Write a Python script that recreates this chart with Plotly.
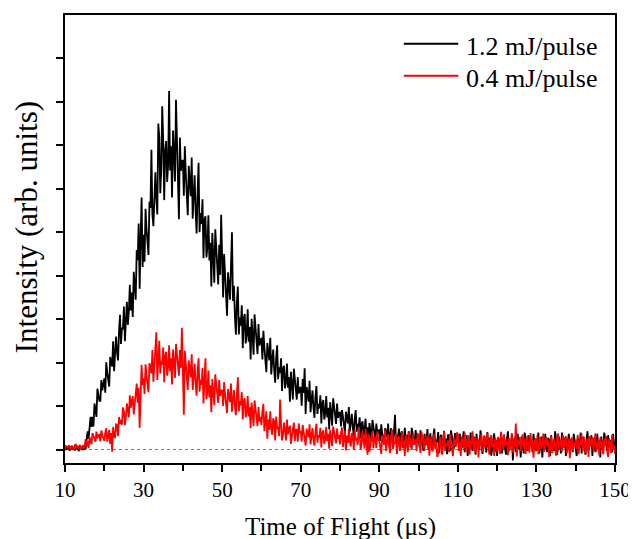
import numpy as np
import plotly.graph_objects as go

# Time grid (µs), 0.25 µs sampling
t_start, t_stop, t_step = 10.0, 150.0, 0.25
tof = np.arange(t_start, t_stop + t_step / 2, t_step)

x_ticks = [10, 30, 50, 70, 90, 110, 130, 150]
y_ticks = [0, 1, 2, 3, 4, 5, 6, 7, 8, 9]

series_names = ["1.2 mJ/pulse", "0.4 mJ/pulse"]

# 1.2 mJ/pulse intensity (arb. units), one row = 2.5 µs
high_energy = [
    0.04, -0.01, 0.06, 0.03, 0.00, -0.02, 0.05, 0.03, 0.01, 0.06,
    -0.02, 0.02, 0.05, 0.00, -0.02, 0.04, 0.07, -0.01, 0.03, 0.01,
    0.11, 0.01, 0.25, 0.42, 0.25, 0.43, 0.75, 0.52, 0.75, 0.53,
    1.06, 0.92, 0.75, 1.40, 1.29, 1.12, 1.12, 1.60, 1.36, 1.52,
    1.64, 1.31, 2.01, 1.77, 1.62, 1.45, 2.13, 2.04, 1.91, 2.49,
    1.80, 2.22, 2.60, 2.23, 2.05, 2.72, 3.10, 2.43, 2.80, 2.77,
    3.29, 2.49, 3.22, 3.40, 2.87, 3.17, 3.79, 3.20, 3.61, 3.05,
    4.09, 3.60, 3.45, 4.59, 4.36, 5.20, 3.70, 4.86, 5.80, 4.20,
    4.94, 4.32, 5.54, 5.08, 4.78, 4.48, 5.70, 5.56, 6.90, 5.40,
    5.14, 5.80, 6.38, 5.76, 5.41, 7.50, 7.20, 5.90, 6.43, 7.90,
    7.13, 5.74, 6.87, 7.10, 6.16, 6.54, 8.25, 6.42, 6.98, 5.80,
    7.34, 6.80, 6.17, 8.05, 7.06, 6.38, 5.30, 7.18, 6.41, 6.63,
    6.66, 5.84, 6.98, 6.34, 5.86, 5.39, 6.53, 6.22, 5.83, 6.72,
    5.31, 5.85, 6.31, 5.47, 4.97, 5.91, 6.60, 5.00, 5.44, 5.19,
    5.76, 4.40, 5.29, 5.37, 4.42, 4.66, 5.39, 4.35, 4.76, 3.75,
    4.98, 4.45, 3.84, 5.07, 4.62, 4.01, 3.80, 4.71, 4.02, 5.40,
    4.23, 3.50, 4.50, 3.93, 3.50, 3.08, 4.08, 3.80, 3.45, 4.23,
    5.00, 3.42, 3.77, 3.06, 2.64, 3.40, 3.75, 2.65, 3.04, 2.85,
    3.32, 2.33, 3.03, 3.12, 2.44, 2.65, 3.23, 2.48, 2.82, 2.07,
    3.01, 2.62, 2.18, 3.11, 2.79, 2.34, 2.20, 2.89, 2.39, 2.54,
    2.55, 2.07, 2.73, 2.35, 2.07, 1.78, 2.45, 2.27, 2.05, 2.57,
    1.73, 2.05, 2.30, 1.82, 1.54, 2.11, 2.40, 1.62, 1.89, 1.76,
    2.10, 1.35, 1.86, 1.93, 1.41, 1.56, 1.98, 1.42, 1.67, 1.10,
    1.79, 1.50, 1.15, 1.86, 1.60, 1.27, 1.15, 1.67, 1.29, 1.40,
    1.44, 1.01, 1.62, 1.30, 1.87, 0.82, 1.44, 1.29, 1.10, 1.58,
    0.86, 1.13, 1.36, 0.96, 0.73, 1.22, 1.46, 0.82, 1.05, 0.95,
    1.25, 0.60, 1.07, 1.14, 0.69, 0.84, 1.23, 0.74, 0.96, 0.46,
    1.09, 0.84, 0.55, 1.18, 0.97, 0.68, 0.59, 1.06, 0.73, 0.84,
    0.86, 0.53, 0.91, 0.76, 0.57, 0.39, 0.87, 0.75, 0.60, 0.98,
    0.41, 0.63, 0.82, 0.51, 0.34, 0.72, 0.91, 0.41, 0.59, 0.52,
    0.74, 0.25, 0.60, 0.65, 0.31, 0.42, 0.71, 0.34, 0.51, 0.14,
    0.61, 0.42, 0.20, 0.68, 0.52, 0.31, 0.24, 0.60, 0.35, 0.44,
    0.45, 0.20, 0.58, 0.38, 0.24, 0.11, 0.49, 0.41, 0.29, 0.60,
    0.13, 0.33, 0.49, 0.24, 0.10, 0.43, 0.80, 0.16, 0.33, 0.27,
    0.48, 0.03, 0.36, 0.42, 0.11, 0.22, 0.50, 0.17, 0.34, 0.00,
    0.42, 0.25, 0.05, 0.50, 0.36, 0.17, 0.11, 0.45, 0.22, 0.31,
    0.30, 0.05, 0.44, 0.25, 0.11, -0.03, 0.36, 0.28, 0.16, 0.47,
    0.00, 0.20, 0.37, 0.12, -0.02, 0.31, 0.48, 0.06, 0.23, 0.17,
    0.40, -0.08, 0.28, 0.34, 0.01, 0.13, 0.43, 0.07, 0.25, -0.11,
    0.35, 0.17, -0.04, 0.44, 0.29, 0.08, 0.02, 0.38, 0.14, 0.23,
    0.21, 0.12, 0.36, 0.00, 0.06, 0.27, 0.42, -0.06, 0.15, 0.33,
    -0.15, 0.21, 0.03, 0.39, 0.09, -0.03, 0.30, 0.24, -0.12, 0.36,
    0.11, 0.17, -0.01, 0.44, 0.26, -0.10, 0.05, 0.32, 0.14, -0.07,
    0.40, 0.07, 0.19, 0.28, -0.14, 0.01, 0.16, 0.37, -0.05, 0.22,
    -0.15, 0.27, 0.18, 0.06, 0.39, -0.09, 0.12, 0.30, 0.03, -0.12,
    0.24, 0.42, -0.03, 0.15, 0.09, 0.33, -0.25, 0.21, 0.27, -0.06,
    0.06, 0.36, 0.00, 0.18, -0.18, 0.30, 0.12, -0.09, 0.39, 0.24,
    0.03, -0.03, 0.33, 0.09, 0.18, 0.21, -0.06, 0.36, 0.15, 0.00,
    -0.03, 0.24, 0.39, -0.09, 0.12, 0.30, -0.18, 0.18, 0.00, 0.36,
    0.06, -0.06, 0.27, 0.21, -0.15, 0.33, 0.09, 0.15, -0.03, 0.42,
    0.24, -0.12, 0.03, 0.30, 0.12, -0.09, 0.39, 0.06, 0.18, 0.27,
    -0.15, 0.00, 0.15, 0.36, -0.06, 0.21, 0.21, -0.06, 0.36, 0.15,
    0.00, -0.15, 0.27, 0.18, 0.06, 0.39, -0.09, 0.12, 0.30, 0.03,
    -0.12, 0.24, 0.42, -0.03, 0.15, 0.09, 0.33, -0.15, 0.21, 0.27,
    -0.06, 0.06, 0.36, 0.00, 0.18, -0.18, 0.30, 0.12, -0.09, 0.39,
    0.24, 0.03, -0.03, 0.33, 0.09, 0.18, 0.21, -0.06, 0.36, 0.15,
    0.05,
]

# 0.4 mJ/pulse intensity (arb. units), one row = 2.5 µs
low_energy = [
    0.00, 0.08, 0.06, 0.04, 0.10, 0.01, 0.05, 0.09, 0.03, 0.00,
    0.09, 0.13, 0.03, 0.07, 0.05, 0.11, 0.00, 0.08, 0.10, 0.02,
    0.07, 0.24, 0.08, 0.19, 0.03, 0.29, 0.22, 0.12, 0.38, 0.31,
    0.21, 0.18, 0.41, 0.26, 0.33, 0.34, 0.19, 0.44, 0.32, 0.23,
    0.20, 0.39, 0.49, 0.18, 0.32, 0.45, 0.13, 0.38, -0.05, 0.52,
    0.33, 0.26, 0.58, 0.57, 0.31, 0.75, 0.59, 0.68, 0.57, 0.97,
    0.88, 0.56, 0.75, 1.06, 0.92, 0.74, 1.25, 0.96, 1.11, 1.23,
    0.81, 1.02, 1.24, 1.52, 1.07, 1.42, 0.50, 1.16, 1.95, 1.48,
    1.64, 1.28, 1.96, 1.69, 1.50, 1.32, 1.99, 1.89, 1.75, 2.29,
    1.56, 1.94, 2.27, 2.70, 1.60, 2.20, 2.50, 1.75, 2.05, 1.95,
    2.35, 1.55, 2.15, 2.25, 1.70, 1.90, 2.40, 1.80, 2.10, 1.50,
    2.30, 2.00, 1.65, 2.43, 2.17, 1.81, 1.70, 2.29, 1.88, 2.80,
    2.07, 0.80, 2.28, 1.91, 1.64, 1.37, 2.05, 1.88, 1.66, 2.19,
    1.37, 1.70, 1.98, 1.51, 1.24, 1.82, 2.10, 1.33, 1.61, 1.49,
    1.88, 1.06, 1.65, 2.10, 1.16, 1.34, 1.82, 1.20, 1.48, 0.86,
    1.62, 1.34, 1.02, 1.73, 1.49, 1.17, 1.07, 1.60, 1.23, 1.35,
    1.37, 1.00, 1.55, 1.26, 1.05, 0.84, 1.39, 1.26, 1.09, 1.52,
    0.87, 1.14, 1.37, 1.00, 0.79, 1.26, 1.66, 0.88, 1.11, 1.02,
    1.32, 0.69, 1.12, 1.18, 0.74, 0.87, 1.23, 0.76, 0.97, 0.49,
    1.08, 0.83, 0.54, 1.13, 0.92, 0.64, 0.54, 0.98, 0.65, 0.75,
    0.56, 0.88, 1.05, 0.42, 0.67, 0.88, 0.25, 0.69, 0.45, 0.88,
    0.50, 0.34, 0.72, 0.64, 0.21, 0.76, 0.47, 0.53, 0.31, 1.15,
    0.58, 0.21, 0.35, 0.62, 0.43, 0.21, 0.69, 0.35, 0.47, 0.55,
    0.13, 0.27, 0.42, 0.62, 0.20, 0.46, 0.46, 0.18, 0.60, 0.38,
    0.43, 0.18, 0.57, 0.37, 0.23, 0.09, 0.48, 0.40, 0.28, 0.58,
    0.12, 0.32, 0.49, 0.23, 0.09, 0.42, 0.59, 0.16, 0.33, 0.27,
    0.50, 0.05, 0.38, 0.44, 0.13, 0.24, 0.52, 0.19, 0.36, 0.02,
    0.45, 0.28, 0.08, 0.53, 0.39, 0.20, 0.14, 0.48, 0.25, 0.34,
    0.12, 0.37, 0.51, 0.06, 0.26, 0.43, -0.02, 0.32, 0.15, 0.48,
    0.18, 0.07, 0.38, 0.32, -0.01, 0.44, 0.21, 0.27, 0.10, 0.52,
    0.33, 0.00, 0.14, 0.39, 0.22, 0.02, 0.47, 0.16, -0.12, 0.36,
    -0.05, 0.09, 0.23, 0.42, 0.03, 0.28, 0.28, 0.03, 0.42, 0.23,
    0.20, 0.05, -0.10, 0.32, 0.23, 0.11, 0.44, -0.04, 0.17, 0.35,
    0.07, -0.08, 0.28, 0.46, 0.01, 0.19, 0.13, 0.37, -0.11, 0.25,
    0.30, -0.03, 0.09, 0.39, 0.03, 0.21, -0.15, 0.33, 0.15, -0.06,
    0.41, 0.26, 0.05, -0.01, 0.35, 0.11, 0.20, 0.23, -0.04, 0.38,
    0.31, 0.13, -0.08, 0.40, 0.25, 0.04, -0.02, 0.34, 0.10, 0.19,
    0.34, -0.14, 0.22, 0.28, -0.05, 0.07, 0.37, 0.01, 0.19, -0.17,
    -0.09, 0.12, 0.30, 0.03, -0.12, 0.24, 0.42, -0.03, 0.15, 0.09,
    0.21, -0.06, 0.36, 0.15, 0.00, -0.15, 0.27, 0.18, 0.06, 0.39,
    0.36, -0.03, 0.18, -0.15, 0.30, 0.15, 0.03, 0.39, -0.06, 0.24,
    0.06, 0.33, -0.12, 0.21, 0.12, 0.42, 0.00, 0.27, -0.09, 0.18,
    0.27, -0.18, 0.24, 0.09, 0.36, -0.06, 0.18, 0.30, 0.03, 0.12,
    0.39, 0.00, -0.12, 0.21, 0.33, 0.06, 0.15, -0.15, 0.27, 0.18,
    -0.04, 0.29, 0.11, -0.10, 0.41, 0.20, 0.02, 0.35, 0.08, 0.23,
    0.17, -0.13, 0.26, -0.01, 0.14, 0.38, -0.07, 0.20, 0.05, 0.60,
    -0.16, 0.23, 0.11, 0.29, -0.04, 0.17, 0.35, 0.02, 0.26, -0.10,
    0.20, 0.32, 0.05, -0.07, 0.38, 0.08, 0.23, -0.19, 0.14, 0.26,
    -0.02, 0.34, -0.11, 0.16, 0.28, 0.01, 0.10, 0.37, -0.05, 0.19,
    0.28, 0.07, 0.22, -0.17, 0.16, 0.31, -0.08, 0.13, 0.25, 0.04,
    -0.14, 0.25, 0.37, 0.01, 0.10, 0.22, -0.05, 0.34, 0.04, 0.19,
    0.31, -0.08, 0.13, 0.25, -0.20, 0.19, 0.28, -0.02, 0.16, 0.07,
    0.22, 0.01, 0.34, -0.11, 0.16, 0.10, 0.37, -0.05, 0.28, 0.04,
    -0.08, 0.19, 0.25, -0.17, 0.31, 0.07, 0.16, 0.28, -0.02, 0.13,
    0.37, -0.05, 0.10, 0.22, -0.14, 0.28, 0.04, 0.19, -0.11, 0.25,
    0.13, 0.31, -0.02, -0.17, 0.25, 0.16, -0.08, 0.34, 0.01, 0.10,
    -0.10,
]

FONT = "Liberation Serif"
colors = ["#000000", "#ff0000"]

fig = go.Figure()
for name, vals, col in zip(series_names, [high_energy, low_energy], colors):
    n = min(len(vals), len(tof))
    fig.add_trace(go.Scatter(x=tof[:n], y=vals[:n], mode="lines", name=name,
                             line=dict(color=col, width=1.8), showlegend=False))

# zero baseline
fig.add_shape(type="line", xref="paper", yref="y", x0=0, x1=1, y0=0, y1=0,
              line=dict(color="#777777", width=1, dash="3px,3px"), layer="below")

# manual legend
leg_y = [0.9356, 0.8644]
for name, col, yy in zip(series_names, colors, leg_y):
    fig.add_shape(type="line", xref="paper", yref="paper", x0=0.616, x1=0.715,
                  y0=yy, y1=yy, line=dict(color=col, width=2))
    fig.add_annotation(xref="paper", yref="paper", x=0.726, y=yy - 0.006,
                       text=name, showarrow=False, xanchor="left", yanchor="middle",
                       font=dict(family=FONT, size=26, color="black"))

fig.add_annotation(xref="paper", yref="paper", x=0.501, y=-0.142,
                   text="Time of Flight (μs)", showarrow=False,
                   xanchor="center", yanchor="middle",
                   font=dict(family=FONT, size=25, color="black"))
fig.add_annotation(xref="paper", yref="paper", x=-0.0685, y=0.527,
                   text="Intensity (arb. units)", showarrow=False, textangle=-90,
                   xanchor="center", yanchor="middle",
                   font=dict(family=FONT, size=31, color="black"))

# page body adds an 8px offset, so the figure is 8px smaller than the window
fig.update_layout(
    width=628, height=531,
    margin=dict(l=57, r=16, t=5, b=76),
    paper_bgcolor="white", plot_bgcolor="white",
    font=dict(family=FONT, color="black"),
    xaxis=dict(range=[10, 150], tickvals=x_ticks, ticktext=[str(v) for v in x_ticks],
               ticks="outside", ticklen=7, tickwidth=1.5, tickcolor="black",
               minor=dict(dtick=10, tick0=10, ticks="outside", ticklen=6, tickwidth=1.5, tickcolor="black"),
               showline=True, linewidth=2, linecolor="black", mirror=True,
               showgrid=False, zeroline=False,
               tickfont=dict(family=FONT, size=21, color="black")),
    yaxis=dict(range=[-0.31, 10], tickvals=y_ticks, showticklabels=False,
               ticks="outside", ticklen=7, tickwidth=1.5, tickcolor="black",
               showline=True, linewidth=2, linecolor="black", mirror=True,
               showgrid=False, zeroline=False),
)

fig.write_html("out.html")
